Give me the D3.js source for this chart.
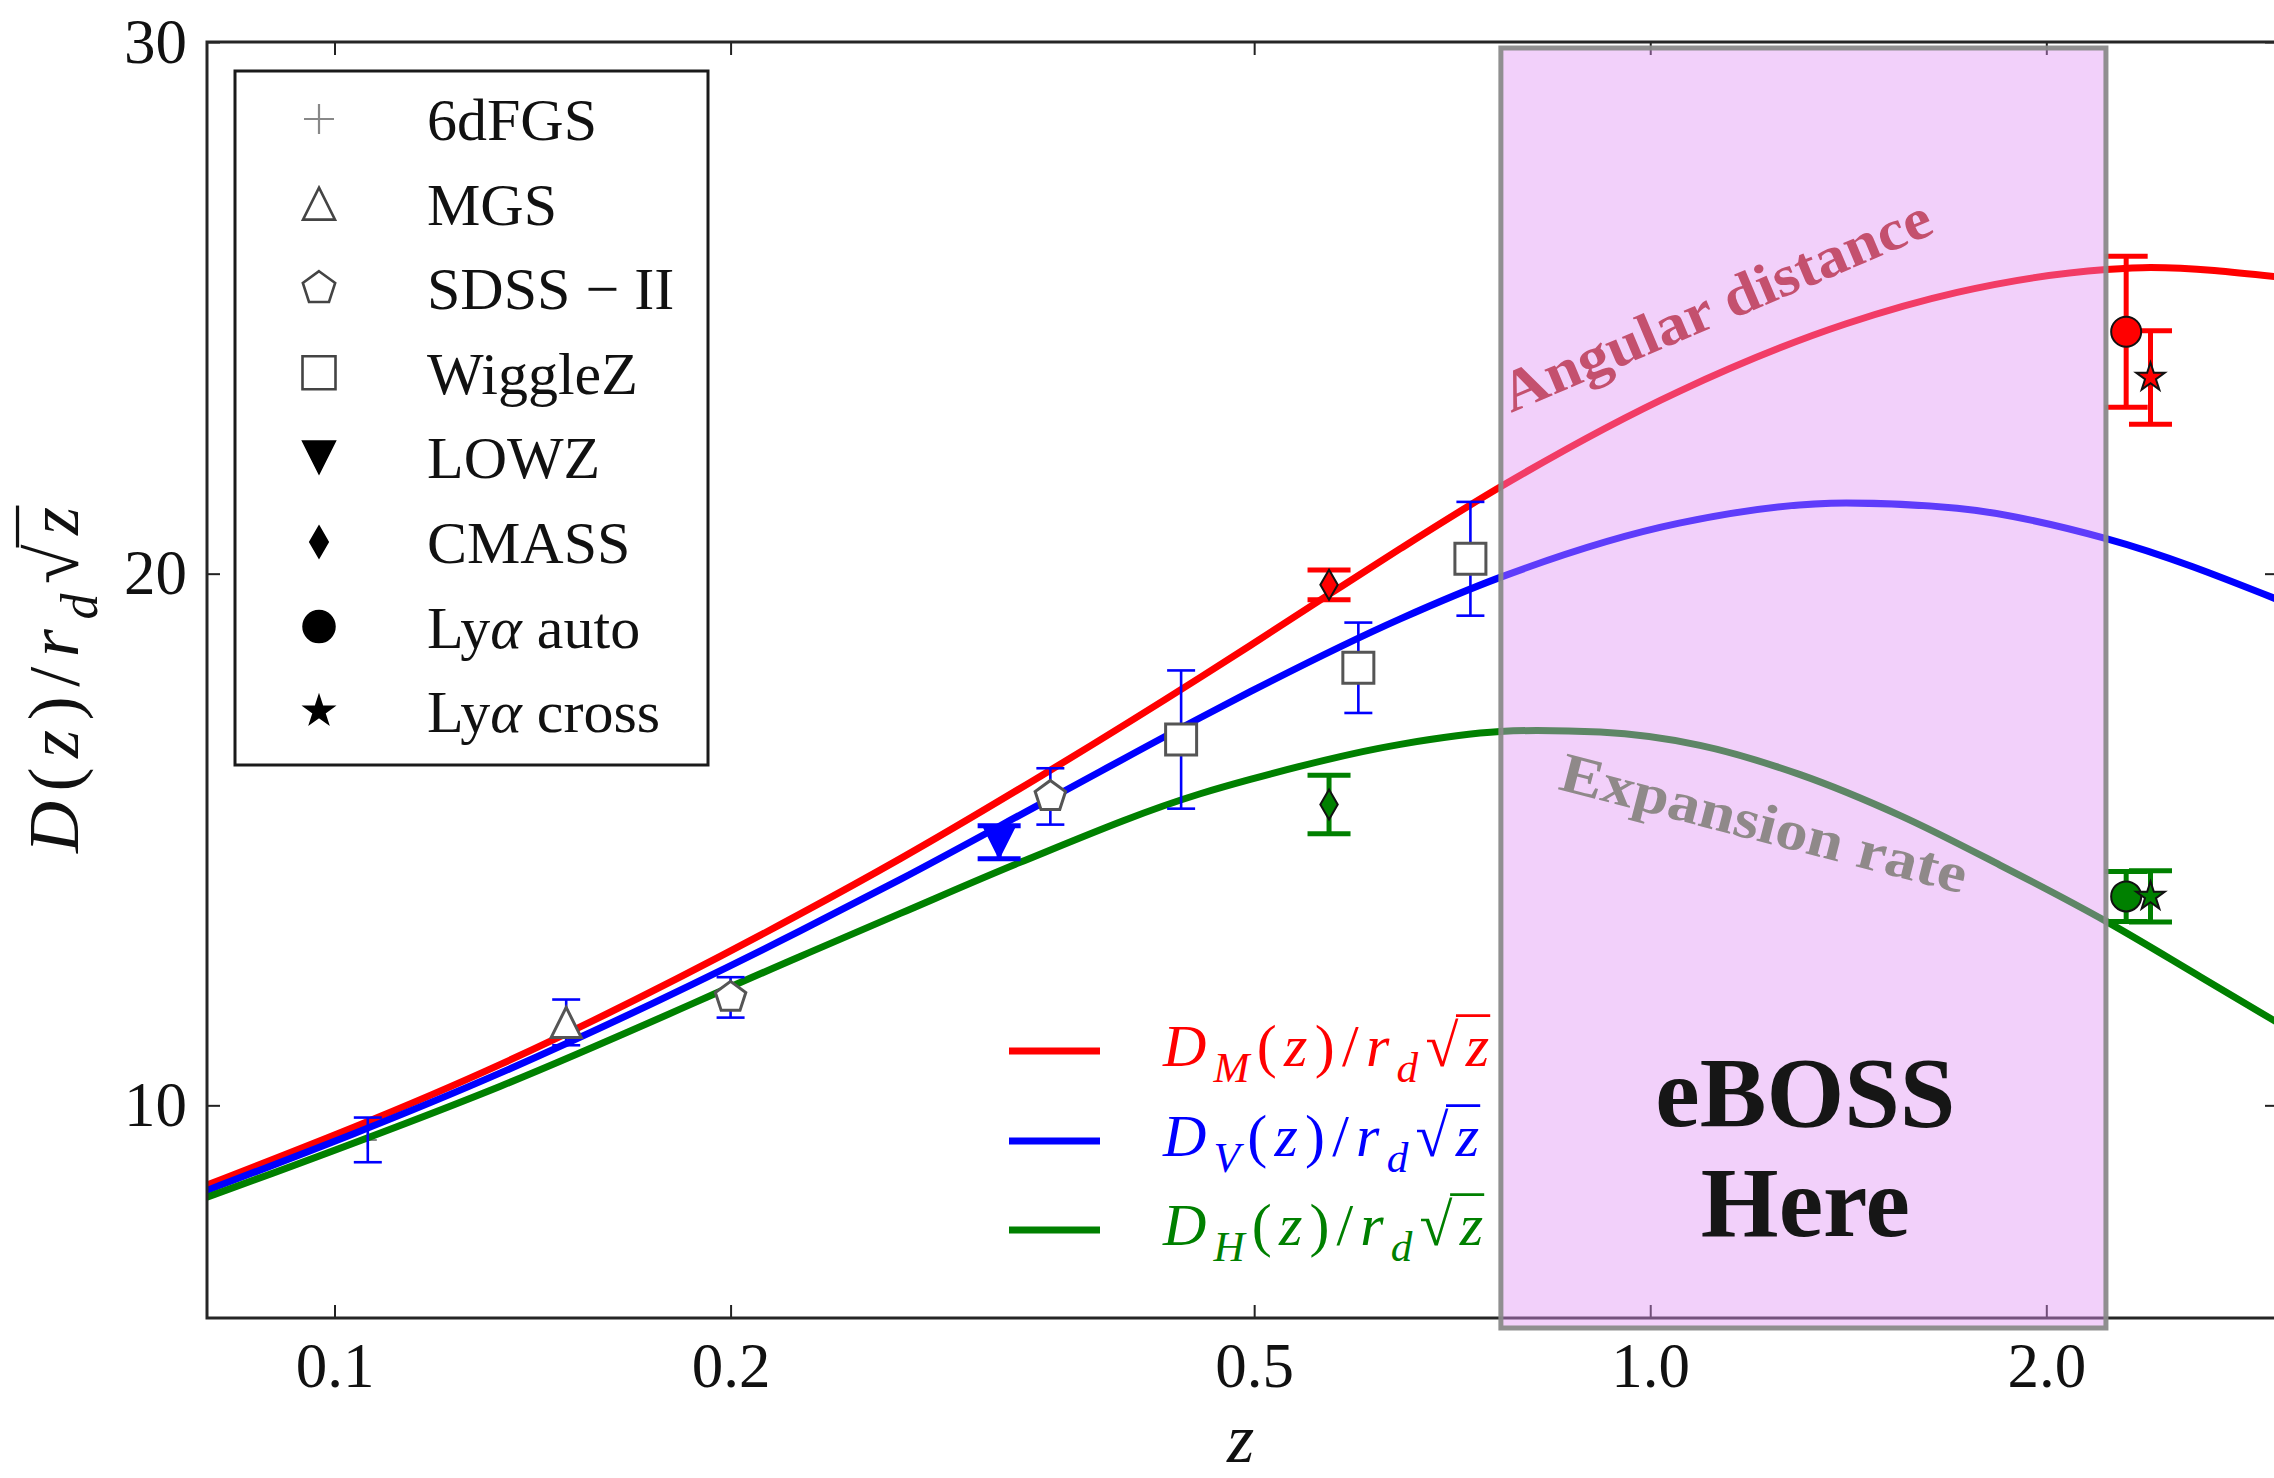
<!DOCTYPE html>
<html>
<head>
<meta charset="utf-8">
<title>BAO distance ladder</title>
<script src="https://cdn.jsdelivr.net/npm/d3@7/dist/d3.min.js"></script>
<style>
  html, body { margin: 0; padding: 0; background: #ffffff; }
  svg { display: block; }
  text { font-family: "Liberation Serif", "Times New Roman", serif; }
</style>
</head>
<body>
<svg id="chart" width="2274" height="1478" font-family="Liberation Serif, serif"></svg>
<script>
// ---- model curves: D(z) / (r_d * sqrt(z)) along a log-z grid ----
const modelZ_M = [0.08, 0.1337, 0.2259, 0.2692, 0.345, 0.455, 0.4966, 0.57, 0.6457, 0.769, 1.052, 1.409, 1.711, 2.221, 2.40, 3.0];
const modelD_M = [8.50, 10.77, 13.60, 14.64, 16.21, 18.05, 18.65, 19.61, 20.47, 21.63, 23.43, 24.70, 25.29, 25.72, 25.76, 25.58];

const modelZ_V = [0.08, 0.1337, 0.2259, 0.2692, 0.35, 0.455, 0.4966, 0.6457, 0.769, 1.052, 1.409, 1.711, 2.221, 3.0];
const modelD_V = [8.40, 10.61, 13.28, 14.25, 15.77, 17.29, 17.78, 19.15, 19.93, 20.95, 21.33, 21.23, 20.66, 19.51];

const modelZ_H = [0.08, 0.1337, 0.2259, 0.2692, 0.332, 0.455, 0.4966, 0.6457, 0.769, 0.82, 0.916, 1.091, 1.30, 1.549, 1.844, 2.221, 2.618, 3.0];
const modelD_H = [8.27, 10.36, 12.80, 13.61, 14.57, 15.86, 16.13, 16.79, 17.03, 17.05, 17.02, 16.77, 16.22, 15.45, 14.52, 13.46, 12.42, 11.55];

// ---- BAO measurements ----
const measSurvey   = ["6dFGS", "MGS", "SDSS − II", "SDSS − II", "WiggleZ", "WiggleZ", "WiggleZ", "LOWZ", "CMASS", "CMASS", "Lyα auto", "Lyα auto", "Lyα cross", "Lyα cross"];
const measZ        = [0.106, 0.15, 0.20, 0.35, 0.44, 0.60, 0.73, 0.32, 0.57, 0.57, 2.30, 2.30, 2.40, 2.40];
const measDistance = ["V", "V", "V", "V", "V", "V", "V", "V", "M", "H", "M", "H", "M", "H"];
const measValue    = [9.35, 11.56, 12.03, 15.81, 16.88, 18.23, 20.28, 14.95, 19.79, 15.66, 24.55, 13.93, 23.69, 13.93];
const measError    = [0.42, 0.43, 0.38, 0.53, 1.30, 0.85, 1.07, 0.31, 0.28, 0.55, 1.42, 0.47, 0.88, 0.48];

// ---- surveys shown in the marker legend ----
const surveyNames   = ["6dFGS", "MGS", "SDSS − II", "WiggleZ", "LOWZ", "CMASS", "Lyα auto", "Lyα cross"];
const surveyMarkers = ["plus", "triUp", "pentagon", "square", "triDown", "thinDiamond", "circle", "star"];

// ---- axis ticks ----
const xTickValues = [0.1, 0.2, 0.5, 1.0, 2.0];
const xTickLabels = ["0.1", "0.2", "0.5", "1.0", "2.0"];
const yTickValues = [10, 20, 30];
const yTickLabels = ["10", "20", "30"];

// ---- redshift range of the highlighted survey ----
const ebossZRange = [0.77, 2.22];
const ebossLines = ["eBOSS", "Here"];

// ---------------------------------------------------------------
const W = 2274, H = 1478;
const plot = { left: 207, right: 2278, top: 42, bottom: 1318 };
const colors = { M: "#ff0000", V: "#0000ff", H: "#008000" };

const x = d3.scaleLog().domain([0.08, 3.0]).range([plot.left, plot.right]);
const y = d3.scaleLinear().domain([6, 30]).range([plot.bottom, plot.top]);

const svg = d3.select("#chart");
svg.append("rect").attr("width", W).attr("height", H).attr("fill", "#ffffff");

svg.append("defs").append("clipPath").attr("id", "plot-clip")
  .append("rect")
  .attr("x", plot.left).attr("y", plot.top)
  .attr("width", plot.right - plot.left).attr("height", plot.bottom - plot.top);

// marker shapes centred on the origin
function markerPath(shape, r) {
  switch (shape) {
    case "plus": return `M${-r},0H${r}M0,${-r}V${r}`;
    case "triUp": return `M0,${-r}L${r},${r}L${-r},${r}Z`;
    case "triDown": return `M0,${r}L${r},${-r}L${-r},${-r}Z`;
    case "square": return `M${-r},${-r}H${r}V${r}H${-r}Z`;
    case "thinDiamond": return `M0,${-r}L${0.58 * r},0L0,${r}L${-0.58 * r},0Z`;
    case "circle": return `M${r},0A${r},${r} 0 1,1 ${-r},0A${r},${r} 0 1,1 ${r},0Z`;
    case "pentagon": {
      const pts = d3.range(5).map(k => {
        const a = (-90 + k * 72) * Math.PI / 180;
        return [r * Math.cos(a), r * Math.sin(a)];
      });
      return "M" + pts.map(p => p.join(",")).join("L") + "Z";
    }
    case "star": {
      const pts = d3.range(10).map(k => {
        const a = (-90 + k * 36) * Math.PI / 180;
        const rr = k % 2 === 0 ? r : r * 0.382;
        return [rr * Math.cos(a), rr * Math.sin(a)];
      });
      return "M" + pts.map(p => p.join(",")).join("L") + "Z";
    }
  }
  return "";
}
const markerSize = { plus: 9, triUp: 15, pentagon: 16, square: 15.5, triDown: 15.5, thinDiamond: 15, circle: 15, star: 15 };
const openMarkers = new Set(["plus", "triUp", "pentagon", "square"]);
const heavyBars = new Set(["LOWZ", "CMASS", "Lyα auto", "Lyα cross"]);
const markerOf = name => surveyMarkers[surveyNames.indexOf(name)];

// ---- measurements (6dFGS point sits under the curves) ----
const measurements = measZ.map((z, i) => ({
  z, v: measValue[i], e: measError[i], survey: measSurvey[i], kind: measDistance[i]
}));

const gUnder = svg.append("g");
measurements.filter(d => markerOf(d.survey) === "plus").forEach(d => {
  gUnder.append("path")
    .attr("transform", `translate(${x(d.z)},${y(d.v)})`)
    .attr("d", markerPath("plus", markerSize.plus))
    .attr("fill", "none").attr("stroke", "#888").attr("stroke-width", 2);
});

// ---- model curves ----
const line = d3.line()
  .x(d => x(d[0])).y(d => y(d[1]))
  .curve(d3.curveMonotoneX);
const modelCurves = [
  { z: modelZ_M, v: modelD_M, color: colors.M },
  { z: modelZ_V, v: modelD_V, color: colors.V },
  { z: modelZ_H, v: modelD_H, color: colors.H }
];
const gCurves = svg.append("g").attr("clip-path", "url(#plot-clip)");
modelCurves.forEach(c => {
  gCurves.append("path")
    .attr("d", line(d3.zip(c.z, c.v)))
    .attr("fill", "none")
    .attr("stroke", c.color)
    .attr("stroke-width", 7)
    .attr("stroke-linejoin", "round");
});

// ---- error bars ----
const gBars = svg.append("g");
measurements.forEach(d => {
  const heavy = heavyBars.has(d.survey);
  const lw = heavy ? 5 : 2.6;
  const half = heavy ? 21.5 : 14;
  const cx = x(d.z), y0 = y(d.v - d.e), y1 = y(d.v + d.e);
  const col = colors[d.kind];
  gBars.append("line").attr("x1", cx).attr("x2", cx).attr("y1", y0).attr("y2", y1)
    .attr("stroke", col).attr("stroke-width", lw);
  [y0, y1].forEach(yy => {
    gBars.append("line").attr("x1", cx - half).attr("x2", cx + half).attr("y1", yy).attr("y2", yy)
      .attr("stroke", col).attr("stroke-width", lw);
  });
});

// ---- markers ----
const gMarks = svg.append("g");
measurements.forEach(d => {
  const shape = markerOf(d.survey);
  if (shape === "plus") return;
  const p = gMarks.append("path")
    .attr("transform", `translate(${x(d.z)},${y(d.v)})`)
    .attr("d", markerPath(shape, markerSize[shape]));
  if (openMarkers.has(shape)) {
    p.attr("fill", "#ffffff").attr("stroke", "#555").attr("stroke-width", 3);
  } else if (shape === "triDown") {
    p.attr("fill", colors[d.kind]).attr("stroke", colors[d.kind]).attr("stroke-width", 2);
  } else {
    p.attr("fill", colors[d.kind]).attr("stroke", "#111").attr("stroke-width", 2);
  }
});

// ---- axes (ticks point inward on all four sides) ----
const tickFont = 63;
const styleAxis = g => {
  g.attr("font-family", "Liberation Serif, serif").attr("font-size", tickFont);
  g.select(".domain").remove();
  g.selectAll(".tick line").attr("stroke", "#222").attr("stroke-width", 2);
  g.selectAll(".tick text").attr("fill", "#111");
};
svg.append("g").attr("transform", `translate(0,${plot.bottom})`)
  .call(d3.axisBottom(x).tickValues(xTickValues).tickFormat((d, i) => xTickLabels[i])
    .tickSizeInner(-13).tickSizeOuter(0).tickPadding(24))
  .call(styleAxis);
svg.append("g").attr("transform", `translate(0,${plot.top})`)
  .call(d3.axisTop(x).tickValues(xTickValues).tickFormat("")
    .tickSizeInner(-13).tickSizeOuter(0))
  .call(styleAxis);
svg.append("g").attr("transform", `translate(${plot.left},0)`)
  .call(d3.axisLeft(y).tickValues(yTickValues).tickFormat((d, i) => yTickLabels[i])
    .tickSizeInner(-13).tickSizeOuter(0).tickPadding(20))
  .call(styleAxis);
svg.append("g").attr("transform", `translate(${plot.right},0)`)
  .call(d3.axisRight(y).tickValues(yTickValues).tickFormat("")
    .tickSizeInner(-13).tickSizeOuter(0))
  .call(styleAxis);

svg.append("rect")
  .attr("x", plot.left).attr("y", plot.top)
  .attr("width", plot.right - plot.left).attr("height", plot.bottom - plot.top)
  .attr("fill", "none").attr("stroke", "#262626").attr("stroke-width", 3);

// ---- math label helper: D_X(z)/r_d sqrt(z) ----
function mathLabel(parent, parts, fs, opts) {
  const t = parent.append("text")
    .attr("x", opts.x).attr("y", opts.y)
    .attr("font-size", fs)
    .attr("fill", opts.fill)
    .attr("text-anchor", opts.anchor || "start");
  let shift = 0;
  parts.forEach(p => {
    const ts = t.append("tspan").text(p.t);
    if (p.i) ts.attr("font-style", "italic");
    const target = p.sub ? 0.27 * fs : 0;
    if (target !== shift) { ts.attr("dy", target - shift); shift = target; }
    if (p.sub) ts.attr("font-size", fs * 0.72);
  });
  if (opts.length) t.attr("textLength", opts.length).attr("lengthAdjust", opts.adjust || "spacing");
  // vinculum of the radical over the last symbol
  const node = t.node();
  const n = node.getNumberOfChars();
  const rootEnd = node.getEndPositionOfChar(n - 2);
  const zEnd = node.getEndPositionOfChar(n - 1);
  parent.append("line")
    .attr("x1", rootEnd.x - fs * 0.04).attr("x2", zEnd.x + fs * 0.02)
    .attr("y1", opts.y - fs * opts.barHeight).attr("y2", opts.y - fs * opts.barHeight)
    .attr("stroke", opts.fill).attr("stroke-width", Math.max(2, fs * 0.045));
  return t;
}
const ratioParts = sub => {
  const parts = [{ t: "D", i: true }];
  if (sub) parts.push({ t: sub, i: true, sub: true });
  return parts.concat([
    { t: "(" }, { t: "z", i: true }, { t: ")" }, { t: "/" },
    { t: "r", i: true }, { t: "d", i: true, sub: true },
    { t: "√" }, { t: "z", i: true }
  ]);
};

// ---- axis titles ----
const yTitle = svg.append("g").attr("transform", `translate(78,${(plot.top + plot.bottom) / 2}) rotate(-90)`);
mathLabel(yTitle, ratioParts(null), 72, { x: 0, y: 0, fill: "#111", anchor: "middle", length: 346, barHeight: 0.84 });

svg.append("text")
  .attr("x", (plot.left + 2274) / 2).attr("y", 1462)
  .attr("text-anchor", "middle")
  .attr("font-size", 70).attr("font-style", "italic").attr("fill", "#111")
  .text("z");

// ---- marker legend ----
const legendBox = { x: 235, y: 71, w: 473, h: 694 };
const gLeg = svg.append("g");
gLeg.append("rect")
  .attr("x", legendBox.x).attr("y", legendBox.y).attr("width", legendBox.w).attr("height", legendBox.h)
  .attr("fill", "#ffffff").attr("stroke", "#1a1a1a").attr("stroke-width", 3);
surveyNames.forEach((name, i) => {
  const cy = 119 + i * 84.6;
  const shape = surveyMarkers[i];
  const r = shape === "plus" ? 15 : markerSize[shape] + 1;
  const p = gLeg.append("path")
    .attr("transform", `translate(319,${cy})`)
    .attr("d", markerPath(shape, r));
  if (shape === "plus") p.attr("fill", "none").attr("stroke", "#888").attr("stroke-width", 2.2);
  else if (openMarkers.has(shape)) p.attr("fill", "#ffffff").attr("stroke", "#444").attr("stroke-width", 2.6);
  else p.attr("fill", "#000").attr("stroke", "#000").attr("stroke-width", 1.5);
  const t = gLeg.append("text").attr("x", 427).attr("y", cy + 21).attr("font-size", 60).attr("fill", "#111");
  const parts = name.split("α");
  if (parts.length > 1) {
    t.append("tspan").text(parts[0]);
    t.append("tspan").attr("font-style", "italic").text("α");
    t.append("tspan").text(parts[1]);
  } else {
    t.text(name);
  }
});

// ---- curve legend ----
const curveLegend = [
  { sub: "M", color: colors.M, y: 1051, len: 326 },
  { sub: "V", color: colors.V, y: 1141, len: 316 },
  { sub: "H", color: colors.H, y: 1230, len: 320 }
];
curveLegend.forEach(c => {
  svg.append("line").attr("x1", 1009).attr("x2", 1100).attr("y1", c.y).attr("y2", c.y)
    .attr("stroke", c.color).attr("stroke-width", 7);
  mathLabel(svg.append("g"), ratioParts(c.sub), 60, {
    x: 1163, y: c.y + 15, fill: c.color, length: c.len, barHeight: 0.84
  });
});

// ---- highlighted redshift band ----
const bandX0 = x(ebossZRange[0]), bandX1 = x(ebossZRange[1]);
svg.append("rect")
  .attr("x", bandX0).attr("y", plot.top + 6)
  .attr("width", bandX1 - bandX0).attr("height", plot.bottom + 10 - (plot.top + 6))
  .attr("fill", "rgb(224,143,243)").attr("fill-opacity", 0.42)
  .attr("stroke", "#8a8a8a").attr("stroke-opacity", 0.95).attr("stroke-width", 5);

// ---- annotations ----
svg.append("text")
  .attr("transform", "translate(1511,413) rotate(-23)")
  .attr("font-size", 58).attr("font-weight", "bold").attr("fill", "#c4506e")
  .attr("textLength", 462).attr("lengthAdjust", "spacingAndGlyphs")
  .text("Angular distance");

svg.append("text")
  .attr("transform", "translate(1557,789) rotate(14.5)")
  .attr("font-size", 56).attr("font-weight", "bold").attr("fill", "#8f8989")
  .attr("textLength", 418).attr("lengthAdjust", "spacingAndGlyphs")
  .text("Expansion rate");

const bandMid = (bandX0 + bandX1) / 2;
ebossLines.forEach((s, i) => {
  svg.append("text")
    .attr("x", bandMid + 2).attr("y", 1126 + i * 110)
    .attr("text-anchor", "middle")
    .attr("font-size", 100).attr("font-weight", "bold").attr("fill", "#161616")
    .text(s);
});
</script>
</body>
</html>
